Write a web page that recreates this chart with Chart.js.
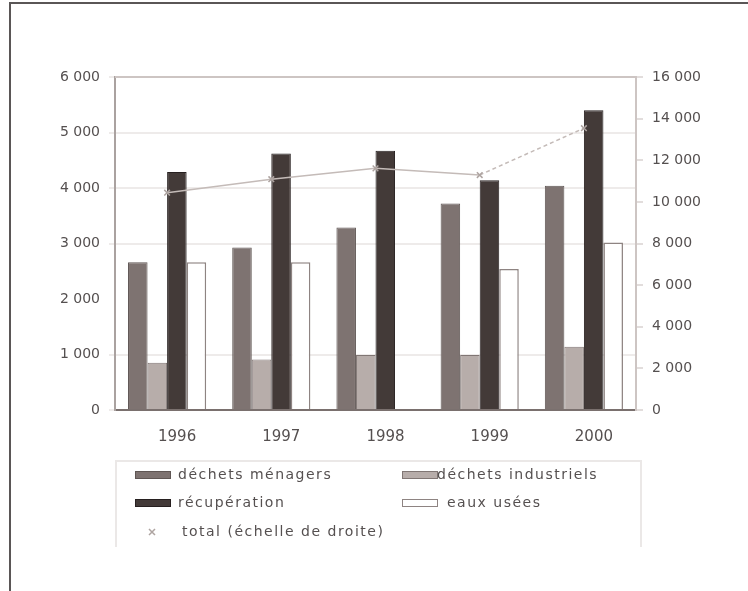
<!DOCTYPE html>
<html>
<head>
<meta charset="utf-8">
<script src="https://cdn.jsdelivr.net/npm/chart.js@4"></script>
<style>
  html, body { margin: 0; padding: 0; background: #fff; }
  #wrap { width: 748px; height: 591px; }
</style>
</head>
<body>
<div id="wrap"><canvas id="myChart" width="748" height="591"></canvas></div>
<script>
// données (tonnes)
const annees = ['1996', '1997', '1998', '1999', '2000'];
const menagers = [2660, 2930, 3290, 3720, 4040];
const industriels = [850, 910, 990, 990, 1140];
const recuperation = [4290, 4620, 4670, 4140, 5400];
const eauxUsees = [2660, 2660, null, 2540, 3020];
const total = [10440, 11090, 11610, 11290, 13540];

const ticksGauche = [0, 1000, 2000, 3000, 4000, 5000, 6000];
const ticksDroite = [0, 2000, 4000, 6000, 8000, 10000, 12000, 14000, 16000];

function fmt(v) {
    return String(v).replace(/\B(?=(\d{3})+(?!\d))/g, ' ');
}

const police = { family: '"DejaVu Sans", sans-serif', size: 14 };

// cadre de la page + haut du cadre du graphique
const cadre = {
    id: 'cadre',
    beforeDraw(chart) {
        const ctx = chart.ctx;
        ctx.save();
        ctx.strokeStyle = '#5a5656';
        ctx.lineWidth = 2;
        ctx.beginPath();
        ctx.moveTo(10, 591);
        ctx.lineTo(10, 3);
        ctx.lineTo(748, 3);
        ctx.stroke();
        ctx.restore();
    },
    beforeDatasetsDraw(chart) {
        const a = chart.chartArea;
        const ctx = chart.ctx;
        ctx.save();
        ctx.strokeStyle = '#cdc5c3';
        ctx.lineWidth = 2;
        ctx.beginPath();
        ctx.moveTo(a.left, a.top);
        ctx.lineTo(a.right, a.top);
        ctx.stroke();
        ctx.restore();
    }
};

// légende sur deux colonnes, dans une boîte
const legende = {
    id: 'legende',
    afterDraw(chart) {
        const ctx = chart.ctx;
        const ds = chart.data.datasets;
        ctx.save();
        ctx.strokeStyle = '#ebe8e7';
        ctx.lineWidth = 2;
        ctx.beginPath();
        ctx.moveTo(116, 547);
        ctx.lineTo(116, 461);
        ctx.lineTo(641, 461);
        ctx.lineTo(641, 547);
        ctx.stroke();

        const places = [[135, 475, 43], [402, 475, 35], [135, 503, 43], [402, 503, 45]];
        ctx.font = '14px "DejaVu Sans", sans-serif';
        ctx.letterSpacing = '1.5px';
        ctx.textBaseline = 'middle';
        for (let i = 0; i < 4; i++) {
            const [x, y, dx] = places[i];
            ctx.fillStyle = ds[i].backgroundColor;
            ctx.fillRect(x, y - 4, 36, 8);
            ctx.strokeStyle = ds[i].borderColor;
            ctx.lineWidth = 1;
            ctx.strokeRect(x + 0.5, y - 3.5, 35, 7);
            ctx.fillStyle = '#555050';
            ctx.fillText(ds[i].label, x + dx, y);
        }
        // la courbe
        const t = ds[4];
        ctx.strokeStyle = t.pointBorderColor;
        ctx.lineWidth = 1.5;
        ctx.beginPath();
        ctx.moveTo(149, 529); ctx.lineTo(155, 535);
        ctx.moveTo(155, 529); ctx.lineTo(149, 535);
        ctx.stroke();
        ctx.fillStyle = '#555050';
        ctx.fillText(t.label, 182, 532);
        ctx.restore();
    }
};

new Chart('myChart', {
    type: 'bar',
    data: {
        labels: annees,
        datasets: [
            {
                label: 'déchets ménagers',
                data: menagers,
                backgroundColor: '#7e7371',
                borderColor: '#5f5654',
                borderWidth: 1,
                order: 1
            },
            {
                label: 'déchets industriels',
                data: industriels,
                backgroundColor: '#b7adaa',
                borderColor: '#807674',
                borderWidth: 1,
                order: 1
            },
            {
                label: 'récupération',
                data: recuperation,
                backgroundColor: '#433a38',
                borderColor: '#272020',
                borderWidth: 1,
                order: 1
            },
            {
                label: 'eaux usées',
                data: eauxUsees,
                backgroundColor: '#ffffff',
                borderColor: '#8e8482',
                borderWidth: 1.5,
                order: 1
            },
            {
                type: 'line',
                label: 'total (échelle de droite)',
                data: total,
                yAxisID: 'y1',
                borderColor: '#c4bbb8',
                borderWidth: 1.5,
                pointStyle: 'crossRot',
                pointRadius: 4,
                pointBorderColor: '#aea4a1',
                pointBorderWidth: 1.5,
                fill: false,
                tension: 0,
                segment: {
                    borderDash: ctx => ctx.p0DataIndex === 3 ? [4, 3] : undefined
                },
                order: 0
            }
        ]
    },
    options: {
        responsive: false,
        animation: false,
        layout: { padding: { left: 20, right: 20, top: 77, bottom: 141 } },
        plugins: {
            legend: { display: false },
            tooltip: { enabled: false }
        },
        datasets: {
            bar: { categoryPercentage: 0.75, barPercentage: 1.0 }
        },
        scales: {
            x: {
                grid: { display: false },
                border: { color: '#7a706e', width: 2 },
                ticks: {
                    color: '#555050',
                    font: { family: '"DejaVu Sans", sans-serif', size: 15 },
                    padding: 10,
                    labelOffset: 10
                },
                afterFit: s => { s.height = 40; }
            },
            y: {
                position: 'left',
                min: 0,
                max: 6000,
                afterBuildTicks: s => { s.ticks = ticksGauche.map(v => ({ value: v })); },
                grid: {
                    color: c => (c.tick && c.tick.value === 2000) ? 'rgba(0,0,0,0)' : '#eeebea',
                    lineWidth: 2,
                    tickLength: 6
                },
                border: { color: '#aaa2a0', width: 2 },
                ticks: { color: '#555050', font: police, padding: 9, callback: v => fmt(v) },
                afterFit: s => { s.width = 95; }
            },
            y1: {
                position: 'right',
                min: 0,
                max: 16000,
                afterBuildTicks: s => { s.ticks = ticksDroite.map(v => ({ value: v })); },
                grid: { drawOnChartArea: false, color: '#e2dddc', lineWidth: 2, tickLength: 7 },
                border: { color: '#cdc5c3', width: 2 },
                ticks: { color: '#555050', font: police, padding: 9, callback: v => fmt(v) },
                afterFit: s => { s.width = 92; }
            }
        }
    },
    plugins: [cadre, legende]
});
</script>
</body>
</html>
